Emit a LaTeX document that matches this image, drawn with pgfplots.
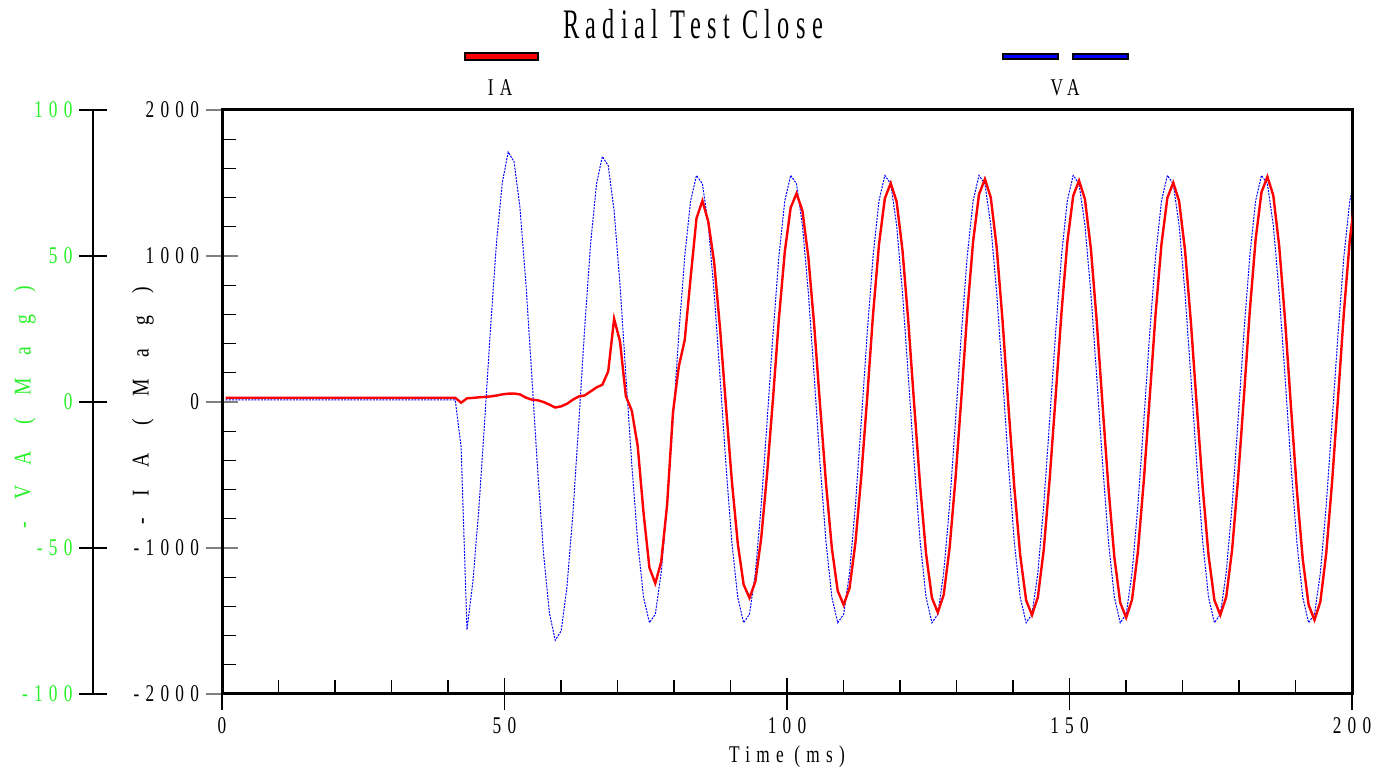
\documentclass[border=0pt]{standalone}
\usepackage{fontspec}
\setmainfont{Liberation Serif}
\newfontfamily\tickf{Liberation Serif}[FakeStretch=0.72,LetterSpace=26]
\newfontfamily\labf{Liberation Serif}[FakeStretch=0.82,LetterSpace=93]
\newfontfamily\titf{Liberation Serif}[FakeStretch=0.58,LetterSpace=15]
\usepackage{pgfplots}
\usepackage{pgfplotstable}
\pgfplotsset{compat=1.18}
\definecolor{vagreen}{RGB}{40,240,40}

% t = time (ms), ia = IA, va = VA
\pgfplotstableread{
t ia va
0.65 29 0.7
41.28 29 0.7
42.32 -5 -15.4
43.36 25 -78.0
44.40 28 -61.6
45.44 32 -37.2
46.48 35 -6.9
47.53 38 25.4
48.57 44 54.3
49.61 52 75.1
50.65 57 85.6
51.69 58 82.3
52.73 52 66.7
53.78 30 41.0
54.82 16 9.3
55.86 12 -23.1
56.90 0 -51.7
57.94 -18 -72.2
58.98 -38 -81.6
60.03 -30 -78.4
61.07 -12 -63.1
62.11 16 -38.1
63.15 38 -7.1
64.19 45 25.3
65.23 72 54.0
66.28 100 74.7
67.32 118 84.1
68.36 210 80.9
69.40 570 65.5
70.44 415 40.3
71.48 40 9.1
72.53 -60 -21.4
73.57 -300 -47.9
74.61 -760 -66.9
75.65 -1135 -75.6
76.69 -1242 -72.7
77.73 -1095 -58.5
78.78 -705 -35.3
79.82 -70 -6.5
80.86 245 23.4
81.90 425 49.9
82.94 850 68.9
83.98 1258 77.6
85.03 1378 74.7
86.07 1235 60.5
87.11 955 37.3
88.15 503 8.5
89.19 -26 -21.4
90.23 -537 -47.9
91.28 -967 -66.9
92.32 -1250 -75.6
93.36 -1342 -72.7
94.40 -1230 -58.5
95.44 -931 -35.3
96.48 -490 -6.5
97.53 27 23.4
98.57 572 49.9
99.61 1030 68.9
100.65 1331 77.6
101.69 1429 74.7
102.73 1310 60.5
103.78 991 37.3
104.82 521 8.5
105.86 -27 -21.4
106.90 -556 -47.9
107.94 -1002 -66.9
108.98 -1294 -75.6
110.03 -1390 -72.7
111.07 -1274 -58.5
112.11 -964 -35.3
113.15 -507 -6.5
114.19 29 23.4
115.23 600 49.9
116.28 1079 68.9
117.32 1395 77.6
118.36 1498 74.7
119.40 1373 60.5
120.44 1039 37.3
121.48 547 8.5
122.53 -28 -21.4
123.57 -577 -47.9
124.61 -1038 -66.9
125.65 -1342 -75.6
126.69 -1441 -72.7
127.73 -1321 -58.5
128.78 -999 -35.3
129.82 -526 -6.5
130.86 29 23.4
131.90 611 49.9
132.94 1100 68.9
133.98 1422 77.6
135.03 1527 74.7
136.07 1399 60.5
137.11 1059 37.3
138.15 557 8.5
139.19 -28 -21.4
140.23 -584 -47.9
141.28 -1051 -66.9
142.32 -1358 -75.6
143.36 -1459 -72.7
144.40 -1337 -58.5
145.44 -1012 -35.3
146.48 -532 -6.5
147.53 29 23.4
148.57 607 49.9
149.61 1092 68.9
150.65 1412 77.6
151.69 1516 74.7
152.73 1389 60.5
153.78 1051 37.3
154.82 553 8.5
155.86 -28 -21.4
156.90 -591 -47.9
157.94 -1064 -66.9
158.98 -1375 -75.6
160.03 -1477 -72.7
161.07 -1354 -58.5
162.11 -1024 -35.3
163.15 -539 -6.5
164.19 29 23.4
165.23 601 49.9
166.28 1082 68.9
167.32 1398 77.6
168.36 1502 74.7
169.40 1376 60.5
170.44 1041 37.3
171.48 548 8.5
172.53 -28 -21.4
173.57 -584 -47.9
174.61 -1051 -66.9
175.65 -1358 -75.6
176.69 -1459 -72.7
177.73 -1337 -58.5
178.78 -1012 -35.3
179.82 -532 -6.5
180.86 30 23.4
181.90 618 49.9
182.94 1112 68.9
183.98 1437 77.6
185.03 1543 74.7
186.07 1414 60.5
187.11 1070 37.3
188.15 563 8.5
189.19 -29 -21.4
190.23 -598 -47.9
191.28 -1076 -66.9
192.32 -1390 -75.6
193.36 -1493 -72.7
194.40 -1368 -58.5
195.44 -1035 -35.3
196.48 -545 -6.5
197.53 30 23.4
198.57 616 49.9
199.61 1110 68.9
200.65 1434 77.6
}\wave

\begin{document}
\begin{tikzpicture}
\useasboundingbox (0pt,0pt) rectangle (693.5pt,387pt);

% VA on its own scale, same box
\begin{axis}[at={(111pt,40pt)}, anchor=south west, scale only axis,
    width=565pt, height=292pt, xmin=0, xmax=200, ymin=-100, ymax=100, hide axis]
\addplot[blue, line width=0.5pt, dash pattern=on 1pt off 0.6pt] table[x=t, y=va] {\wave};
\end{axis}

% IA axis with frame
\begin{axis}[at={(111pt,40pt)}, anchor=south west, scale only axis,
    width=565pt, height=292pt,
    xmin=0, xmax=200, ymin=-2000, ymax=2000,
    axis line style={line width=1.5pt},
    xtick={0,50,100,150,200}, xticklabels={0,50,100,150,200},
    ytick={-2000,-1000,0,1000,2000}, yticklabels={-2000,-1000,0,1000,2000},
    minor x tick num=4, minor y tick num=4,
    xtick pos=left, ytick pos=left,
    tick align=center, major tick length=16pt, minor tick length=7pt,
    every tick/.style={black, line width=0.6pt},
    every minor x tick/.append style={yshift=3.5pt},
    every minor y tick/.append style={xshift=3.5pt},
    every major y tick/.append style={gray},
    ticklabel style={font=\tickf\fontsize{12}{14}\selectfont},
    xlabel={Time (ms)},
    xlabel style={font=\tickf\fontsize{12}{14}\selectfont,
      at={(axis description cs:0.5,0)}, anchor=center, yshift=-31.5pt},
    ylabel={-IA (Mag)},
    ylabel style={font=\labf\fontsize{12}{14}\selectfont,
      at={(axis description cs:-0.0699,0.493)}, anchor=center},
    ]
\addplot[red, line width=1.2pt] table[x=t, y=ia] {\wave};
\end{axis}

% green VA scale on the far left
\begin{axis}[at={(46.5pt,40pt)}, anchor=south west, scale only axis,
    width=10pt, height=292pt, xmin=0, xmax=1, ymin=-100, ymax=100,
    axis x line=none, axis y line*=left,
    axis line style={line width=0.6pt},
    ytick={-100,-50,0,50,100}, yticklabels={-100,-50,0,50,100},
    tick align=center, major tick length=13.5pt,
    every tick/.style={black, line width=0.6pt},
    yticklabel style={font=\tickf\fontsize{12}{14}\selectfont, text=vagreen},
    ylabel={-VA (Mag)},
    ylabel style={font=\labf\fontsize{12}{14}\selectfont, text=vagreen,
      at={(axis description cs:-3.4,0.491)}, anchor=center},
    ]
\end{axis}

% title and legend
\node[font=\titf\fontsize{21}{25}\selectfont] at (346.5pt,375pt) {Radial Test Close};
\draw[fill=red, line width=0.6pt] (232.5pt,357pt) rectangle (269pt,360.5pt);
\draw[fill=blue, line width=0.6pt] (501.5pt,357.5pt) rectangle (529pt,360pt);
\draw[fill=blue, line width=0.6pt] (536.5pt,357.5pt) rectangle (564pt,360pt);
\node[font=\tickf\fontsize{12}{14}\selectfont] at (250pt,343pt) {IA};
\node[font=\tickf\fontsize{12}{14}\selectfont] at (532.5pt,343pt) {VA};
\end{tikzpicture}
\end{document}
